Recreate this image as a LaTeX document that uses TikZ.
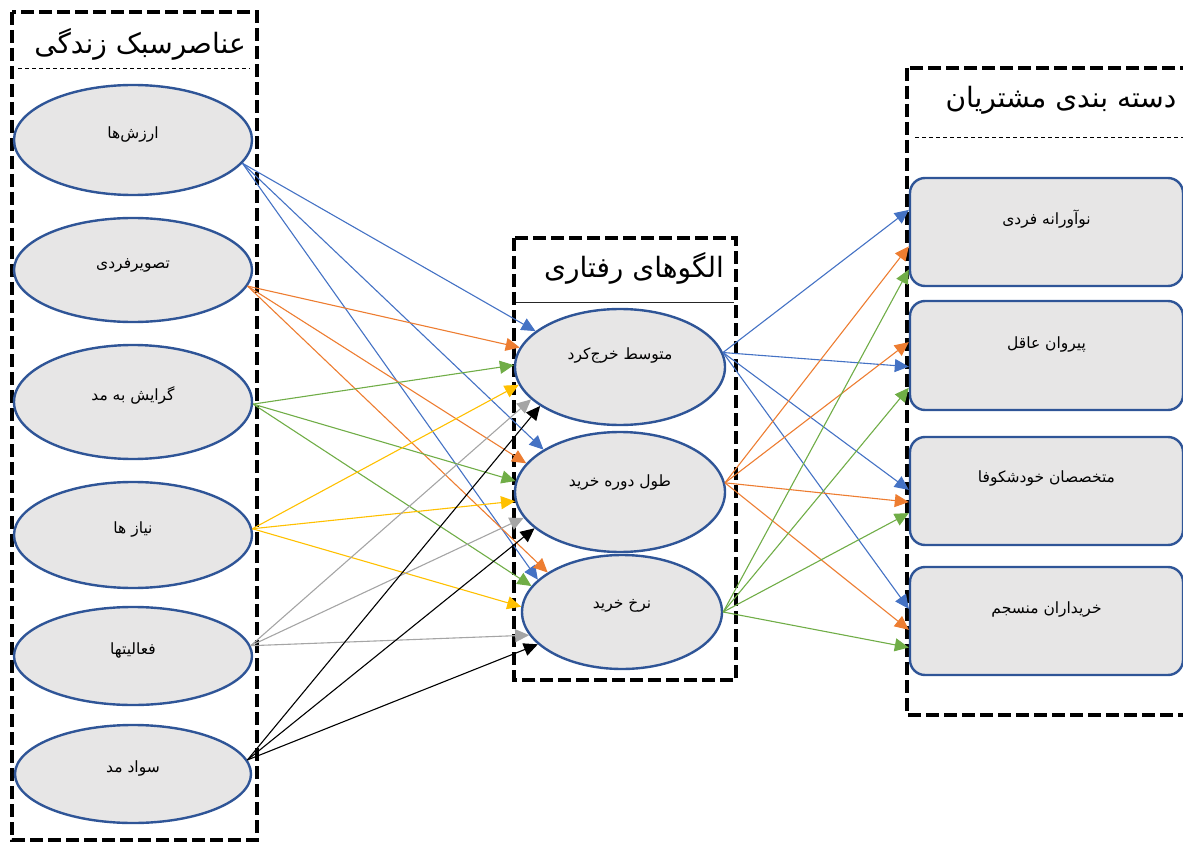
\documentclass[tikz,border=0pt]{standalone}
\usepackage{fontspec}
\newfontfamily\fa[Script=Arabic]{DejaVu Sans}
\TeXXeTstate=1
\usetikzlibrary{arrows.meta,shapes.geometric,calc}
\definecolor{cblue}{HTML}{4472C4}
\definecolor{corange}{HTML}{ED7D31}
\definecolor{cgreen}{HTML}{70AD47}
\definecolor{cyellow}{HTML}{FFC000}
\definecolor{cgray}{HTML}{A5A5A5}
\definecolor{eborder}{HTML}{2F5597}
\definecolor{efill}{HTML}{E7E6E6}
\newcommand{\fatext}[2][1.5pt]{\raisebox{#1}[0pt][0pt]{\fa\beginR #2\endR}}
\begin{document}
\begin{tikzpicture}[x=1pt,y=-1pt,
  ell/.style={ellipse, draw=eborder, line width=2.4pt, fill=efill, inner sep=0pt, font=\fontsize{15.5}{18}\selectfont},
  segbox/.style={rectangle, rounded corners=15pt, draw=eborder, line width=2.4pt, fill=efill, inner sep=0pt, minimum width=273pt, font=\fontsize{15.5}{18}\selectfont},
  grpbox/.style={draw=black, line width=3.8pt, dash pattern=on 13pt off 5pt},
  sepdash/.style={draw=black, line width=0.8pt, dash pattern=on 4pt off 3pt},
  title/.style={font=\fontsize{28}{32}\selectfont, inner sep=0pt},
  arr/.style={-{Triangle[length=14pt,width=13pt]}, line width=1.1pt}
]
\useasboundingbox (0,0) rectangle (1183,842);

% group boxes
\draw[grpbox] (12,12) rectangle (257,840);
\draw[sepdash] (18,68) -- (250,68);
\node[title] (t1) at (140,44) {\fa\beginR عناصرسبک زندگی\endR};

\draw[grpbox] (514,238) rectangle (736,680);
\draw[line width=1pt, black!85] (516,303) -- (734,303);
\node[title] (t2) at (634,268) {\fa\beginR الگوهای رفتاری\endR};

\draw[grpbox] (907,68) rectangle (1195,715);
\draw[sepdash] (915,137) -- (1183,137);
\node[title] (t3) at (1061,100) {\fa\beginR دسته بندی مشتریان\endR};

% left ellipses
\node[ell, minimum width=238pt, minimum height=110pt] (v1) at (133,140) {\fatext{ارزش^^^^200cها}};
\node[ell, minimum width=238pt, minimum height=104pt] (v2) at (133,270) {\fatext{تصویرفردی}};
\node[ell, minimum width=238pt, minimum height=114pt] (v3) at (133,402) {\fatext{گرایش به مد}};
\node[ell, minimum width=238pt, minimum height=106pt] (v4) at (133,535) {\fatext{نیاز ها}};
\node[ell, minimum width=238pt, minimum height=98pt] (v5) at (133,656) {\fatext{فعالیتها}};
\node[ell, minimum width=236pt, minimum height=98pt] (v6) at (133,774) {\fatext{سواد مد}};

% middle ellipses
\node[ell, minimum width=210pt, minimum height=116pt] (m1) at (620,367) {\fatext[7.5pt]{متوسط خرج^^^^200cکرد}};
\node[ell, minimum width=210pt, minimum height=120pt] (m2) at (620,492) {\fatext[5.5pt]{طول دوره خرید}};
\node[ell, minimum width=200pt, minimum height=114pt] (m3) at (622,612) {\fatext[3.5pt]{نرخ خرید}};

% right boxes
\node[segbox, minimum height=108pt] (b1) at (1046.5,232) {\fatext[7.5pt]{نوآورانه فردی}};
\node[segbox, minimum height=109pt] (b2) at (1046.5,355.5) {\fatext[7.5pt]{پیروان عاقل}};
\node[segbox, minimum height=108pt] (b3) at (1046.5,491) {\fatext[8.5pt]{متخصصان خودشکوفا}};
\node[segbox, minimum height=108pt] (b4) at (1046.5,621) {\fatext[7.5pt]{خریداران منسجم}};

% left to middle
\draw[arr, cblue] (v1.-12) -- (m1.157);
\draw[arr, cblue] (v1.-12) -- (m2.151);
\draw[arr, cblue] (v1.-12) -- (m3.159);

\draw[arr, corange] (v2.-8) -- (m1.169);
\draw[arr, corange] (v2.-8) -- (m2.163);
\draw[arr, corange] (v2.-8) -- (m3.152);

\draw[arr, cgreen] (v3.-1) -- (m1.179);
\draw[arr, cgreen] (v3.-1) -- (m2.174);
\draw[arr, cgreen] (v3.-1) -- (m3.164);

\draw[arr, cyellow] (v4.3) -- (m1.190);
\draw[arr, cyellow] (v4.3) -- (m2.185);
\draw[arr, cyellow] (v4.3) -- (m3.177);

\draw[arr, cgray] (v5.5) -- (m1.200);
\draw[arr, cgray] (v5.5) -- (m2.195);
\draw[arr, cgray] (v5.5) -- (m3.194);

\draw[arr, black] (v6.7) -- (m1.206);
\draw[arr, black] (v6.7) -- (m2.203);
\draw[arr, black] (v6.7) -- (m3.201);

% middle to right
\draw[arr, cblue] (m1.8) -- ($(b1.north west)!0.30!(b1.south west)$);
\draw[arr, cblue] (m1.8) -- ($(b2.north west)!0.60!(b2.south west)$);
\draw[arr, cblue] (m1.8) -- ($(b3.north west)!0.49!(b3.south west)$);
\draw[arr, cblue] (m1.8) -- ($(b4.north west)!0.39!(b4.south west)$);

\draw[arr, corange] (m2.5) -- ($(b1.north west)!0.63!(b1.south west)$);
\draw[arr, corange] (m2.5) -- ($(b2.north west)!0.38!(b2.south west)$);
\draw[arr, corange] (m2.5) -- ($(b3.north west)!0.60!(b3.south west)$);
\draw[arr, corange] (m2.5) -- ($(b4.north west)!0.58!(b4.south west)$);

\draw[arr, cgreen] (m3.0) -- ($(b1.north west)!0.84!(b1.south west)$);
\draw[arr, cgreen] (m3.0) -- ($(b2.north west)!0.79!(b2.south west)$);
\draw[arr, cgreen] (m3.0) -- ($(b3.north west)!0.70!(b3.south west)$);
\draw[arr, cgreen] (m3.0) -- ($(b4.north west)!0.74!(b4.south west)$);
\end{tikzpicture}
\end{document}
